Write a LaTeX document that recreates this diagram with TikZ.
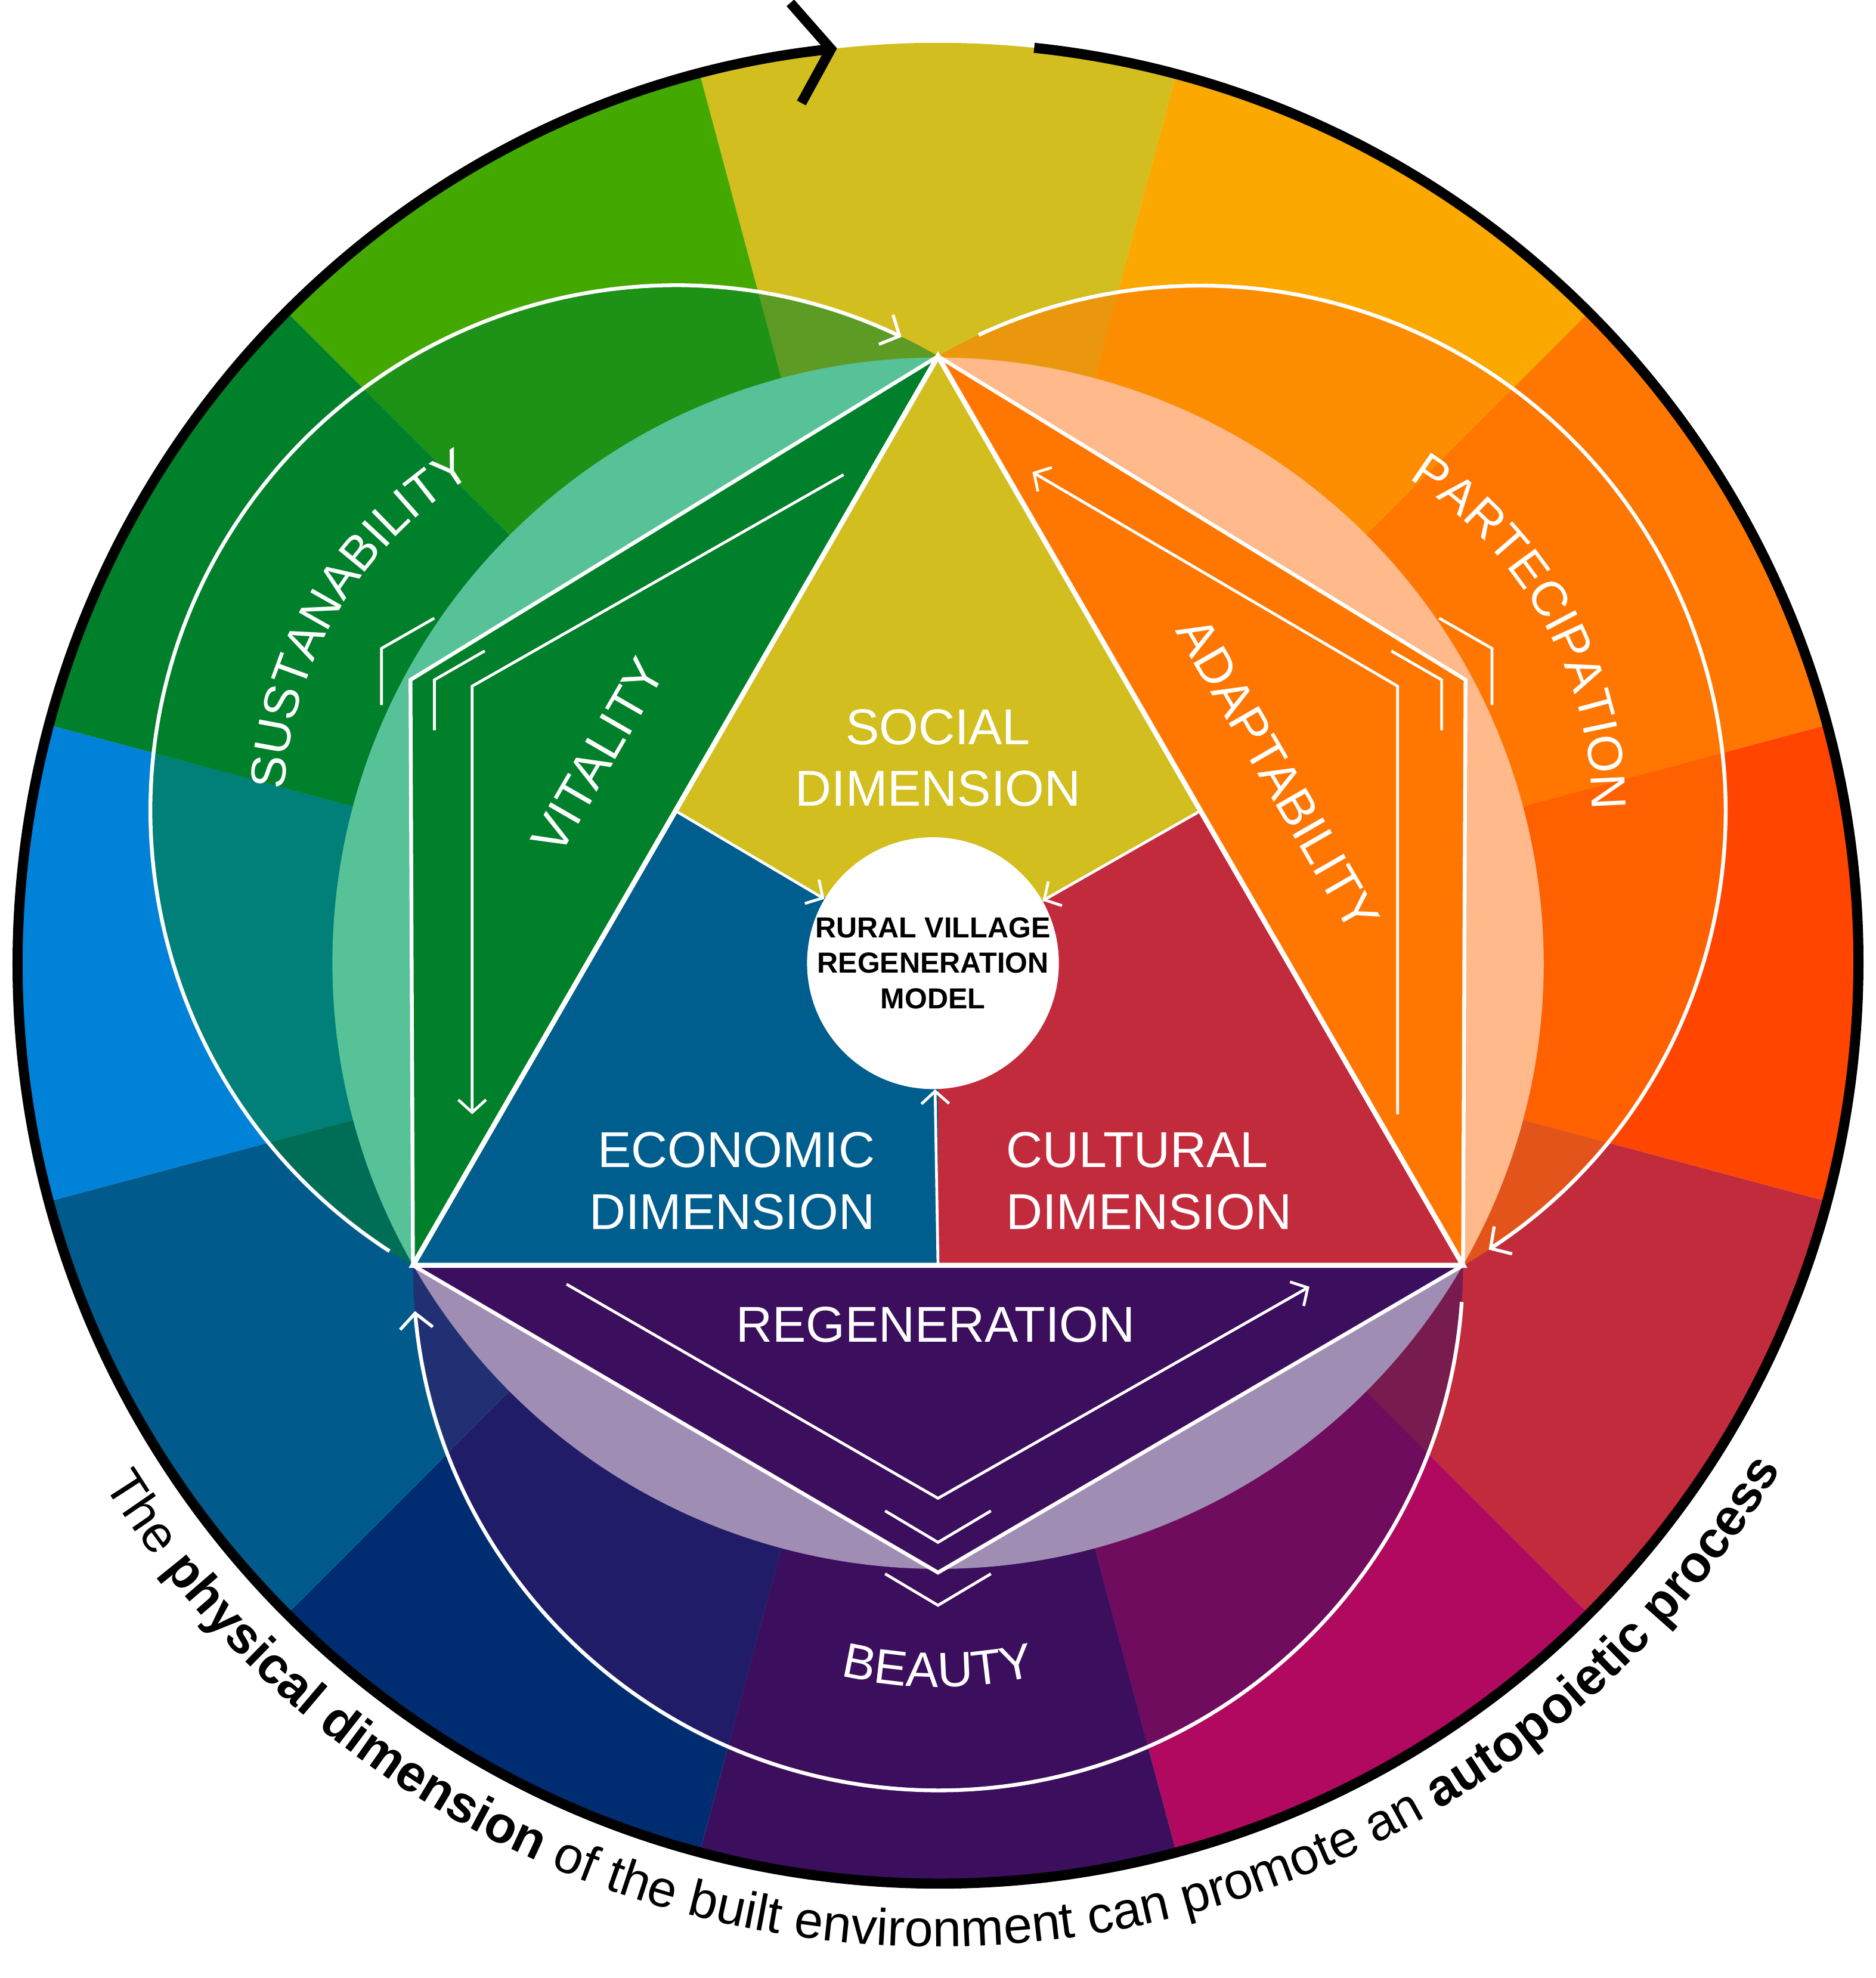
\documentclass[tikz,border=0pt]{standalone}
\usepackage{fontspec}
\setmainfont{Liberation Sans}
\usetikzlibrary{arrows.meta,decorations.text}
\definecolor{s90}{HTML}{D2BE1E}
\definecolor{s60}{HTML}{FBA800}
\definecolor{s30}{HTML}{FF7700}
\definecolor{s0}{HTML}{FF4500}
\definecolor{sm30}{HTML}{C22B3C}
\definecolor{sm60}{HTML}{B0095F}
\definecolor{sm90}{HTML}{3C0F5E}
\definecolor{sm120}{HTML}{002D72}
\definecolor{sm150}{HTML}{005A8C}
\definecolor{s180}{HTML}{0082D8}
\definecolor{s150}{HTML}{00802A}
\definecolor{s120}{HTML}{43A900}
\definecolor{econ}{HTML}{005E8E}
\definecolor{lgreen}{HTML}{57C197}
\definecolor{lorange}{HTML}{FFB98A}
\definecolor{lpurple}{HTML}{A08DB4}
\newcommand\capf{\fontsize{41}{44}\selectfont}
\begin{document}
\begin{tikzpicture}[x=1pt,y=1pt,
  edge/.style={white,line width=4pt,line join=miter},
  hexe/.style={white,line width=3pt},
  thin/.style={white,line width=2.2pt},
  arcw/.style={white,line width=3pt,-{Straight Barb[length=12pt,width=26pt,line width=2.5pt]}},
  arrw/.style={white,line width=2.2pt,-{Straight Barb[length=10pt,width=22pt,line width=2.2pt]}},
  lab/.style={white,font=\fontsize{40}{49}\selectfont,align=center,inner sep=0pt}]
\useasboundingbox (0,0) rectangle (1490,1571);
\coordinate (O) at (745,806);
\coordinate (T) at (745,1288);
\coordinate (L) at (328,566);
\coordinate (R) at (1162,566);
\coordinate (ML) at (536.5,927);
\coordinate (MR) at (953.5,927);
\coordinate (MB) at (745,566);
\coordinate (V150) at (326,1031);
\coordinate (V30) at (1164,1031);
\coordinate (V270) at (745,322);
% wheel
\foreach \a/\c in {90/s90,60/s60,30/s30,0/s0,-30/sm30,-60/sm60,-90/sm90,-120/sm120,-150/sm150,180/s180,150/s150,120/s120}{
  \fill[\c] (O) -- ++(\a-15:731pt) arc[start angle=\a-15,end angle=\a+15,radius=731pt] -- cycle;}
% overlays
\begin{scope}
\clip (O) circle[radius=731pt];
\fill[s150,opacity=0.55] (ML) circle[radius=417pt];
\fill[s30,opacity=0.55] (MR) circle[radius=417pt];
\fill[sm90,opacity=0.55] (MB) circle[radius=417pt];
\end{scope}
% circumcircle segments
\fill[lgreen] (O) -- ++(90:481pt) arc[start angle=90,end angle=210,radius=481pt] -- cycle;
\fill[lorange] (O) -- ++(-30:481pt) arc[start angle=-30,end angle=90,radius=481pt] -- cycle;
\fill[lpurple] (O) -- ++(210:481pt) arc[start angle=210,end angle=330,radius=481pt] -- cycle;
% hexagon pieces
\fill[s150] (T) -- (V150) -- (L) -- cycle;
\fill[s30] (T) -- (V30) -- (R) -- cycle;
\fill[sm90] (L) -- (V270) -- (R) -- cycle;
% triangle regions
\fill[s90] (T) -- (ML) -- (O) -- (MR) -- cycle;
\fill[econ] (ML) -- (L) -- (MB) -- (O) -- cycle;
\fill[sm30] (MR) -- (R) -- (MB) -- (O) -- cycle;
% hexagon edges
\draw[hexe] (T) -- (V150) -- (L) -- (V270) -- (R) -- (V30) -- cycle;
\draw[edge] (T) -- (L) -- (R) -- cycle;
% center
\node[circle,fill=white,minimum size=200pt,inner sep=0pt,align=center,font=\bfseries\fontsize{23}{28}\selectfont] (core) at (741,806) {RURAL VILLAGE\\REGENERATION\\MODEL};
\draw[arrw] (ML) -- (core);
\draw[arrw] (MR) -- (core);
\draw[arrw] (MB) -- (core);
% big circle arcs
\draw[arcw] (ML) ++(237:417pt) arc[start angle=237,end angle=64.5,radius=417pt];
\draw[arcw] (MR) ++(115:417pt) arc[start angle=115,end angle=-56.7,radius=417pt];
\draw[arcw] (MB) ++(-4:417pt) arc[start angle=-4,end angle=-175,radius=417pt];
% inner hexagon arrows
\coordinate (la) at (670,1194); \coordinate (lb) at (375,1026); \coordinate (lc) at (375,686);
\draw[arrw] (la) -- (lb) -- (lc);
\coordinate (ra) at (1110,686); \coordinate (rb) at (1110,1026); \coordinate (rc) at (820,1196);
\draw[arrw] (ra) -- (rb) -- (rc);
\coordinate (ba) at (450,551); \coordinate (bb) at (745,381); \coordinate (bc) at (1040,549);
\draw[arrw] (ba) -- (bb) -- (bc);
% chevrons
\coordinate (c1a) at (303,1011); \coordinate (c1b) at (303,1056); \coordinate (c1c) at (345,1080);
\coordinate (c2a) at (345,991); \coordinate (c2b) at (345,1031); \coordinate (c2c) at (385,1054);
\draw[thin] (c1a) -- (c1b) -- (c1c);
\draw[thin] (c2a) -- (c2b) -- (c2c);
\coordinate (c3a) at (1145,991); \coordinate (c3b) at (1145,1031); \coordinate (c3c) at (1105,1054);
\coordinate (c4a) at (1185,1011); \coordinate (c4b) at (1185,1056); \coordinate (c4c) at (1143,1080);
\draw[thin] (c3a) -- (c3b) -- (c3c);
\draw[thin] (c4a) -- (c4b) -- (c4c);
\coordinate (c5a) at (703,371); \coordinate (c5b) at (745,346); \coordinate (c5c) at (787,371);
\coordinate (c6a) at (703,321); \coordinate (c6b) at (745,296); \coordinate (c6c) at (787,321);
\draw[thin] (c5a) -- (c5b) -- (c5c);
\draw[thin] (c6a) -- (c6b) -- (c6c);
% labels
\node[lab] (soc) at (745,969) {SOCIAL\\DIMENSION};
\node[lab,align=right,anchor=east] (eco) at (695,633) {ECONOMIC\\DIMENSION};
\node[lab,align=left,anchor=west] (cul) at (799,633) {CULTURAL\\DIMENSION};
\node[lab] (reg) at (743,519) {REGENERATION};
\node[lab,rotate=60] (vit) at (475,971) {VITALITY};
\node[lab,rotate=-60] (ada) at (1015,956) {ADAPTABILITY};
% curved labels
\path[decorate,decoration={text along path,text align=center,
  text={|\color{white}\fontsize{39}{40}\selectfont|SUSTANABILITY}}]
  (ML) ++(190:311pt) arc[start angle=190,end angle=108,radius=311pt];
\path[decorate,decoration={text along path,text align=center,
  text={|\color{white}\fontsize{39}{40}\selectfont|PARTECIPATION}}]
  (MR) ++(72:311pt) arc[start angle=72,end angle=-14,radius=311pt];
\path[decorate,decoration={text along path,text align=center,
  text={|\color{white}\fontsize{39}{40}\selectfont|BEAUTY}}]
  (MB) ++(235:335pt) arc[start angle=235,end angle=305,radius=335pt];
% outer ring
\draw[black,line width=8pt,-{Straight Barb[length=28pt,width=80pt,line width=8pt]}]
  (O) ++(84:731pt) arc[start angle=84,end angle=-263.7,radius=731pt];
\path[decorate,decoration={text along path,text align=center,
  text={|\capf|The |\capf\bfseries|physical dimension |\capf|of the built environment can promote an |\capf\bfseries|autopoietic process}}]
  (O) ++(198:781pt) arc[start angle=198,end angle=343,radius=781pt];
\end{tikzpicture}
\end{document}
